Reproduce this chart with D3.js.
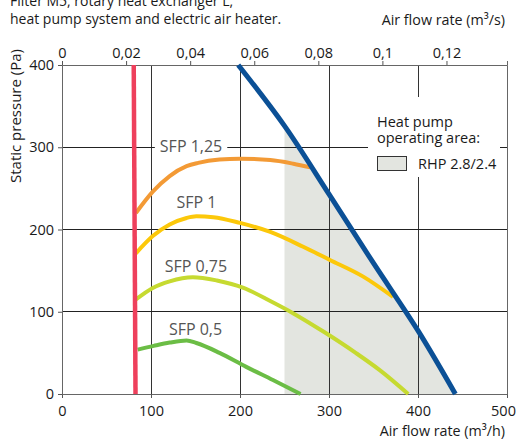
<!DOCTYPE html>
<html><head><meta charset="utf-8">
<script src="https://cdn.jsdelivr.net/npm/d3@7"></script>
<style>
html,body{margin:0;padding:0;background:#fff;}
svg{display:block;font-family:"Open Sans",sans-serif;}
</style></head><body>
<svg id="c" width="518" height="439"></svg>
<script>
// ---- data ----
const xTicksH = [0, 100, 200, 300, 400, 500];            // m3/h
const xTicksS = [0, 0.02, 0.04, 0.06, 0.08, 0.1, 0.12];   // m3/s
const xTickLabelsS = ["0", "0,02", "0,04", "0,06", "0,08", "0,1", "0,12"];
const yTicks = [0, 100, 200, 300, 400];
const gridX = [100, 200, 300, 400];
const gridY = [100, 200, 300];

const sfpNames = ["SFP 1,25", "SFP 1", "SFP 0,75", "SFP 0,5"];
const sfp125 = [[83,220],[102,246],[121,265],[140,277],[153,281],[177,285],[200,286],[234,284.5],[260,280],[279,275.5]];
const sfp100 = [[83,171],[102,192],[121,206],[140,214],[151,216],[170,215],[200,208],[234,197],[271,179],[301,163],[338,143],[372,118]];
const sfp075 = [[83,115],[102,129],[121,137],[147,142],[174,138],[204,129],[234,113],[260,98],[295,75],[330,50],[357,29],[389,0]];
const sfp050 = [[85,54],[103,58.5],[121,62.5],[140,65],[151,62],[177,50],[207,33],[237,17],[268,0]];
const sfpLabelAt = [[145,294],[151,226],[150.5,148],[150,71.5]];
const maxCurve = [[198,400],[250,326],[300,243],[350,159],[400,77],[442,0]];
const minCurve = [[82.6,0],[80.6,400]];
const hpAreaMinX = 250;
const legendTitle = ["Heat pump", "operating area:"];
const legendItem = "RHP 2.8/2.4";
const titleLines = ["Filter M5, rotary heat exchanger L,", "heat pump system and electric air heater."];

// ---- layout ----
const m = {l: 62, r: 507, t: 65, b: 394};
const colors = {sfp: ["#f39a35", "#fcc80a", "#c6da30", "#6bbd45"], max: "#0b5096", min: "#ee405c", area: "#e3e5e0"};

const svg = d3.select("#c");
const x = d3.scaleLinear().domain([0, 500]).range([m.l, m.r]);
const xs = d3.scaleLinear().domain([0, 500/3600]).range([m.l, m.r]);
const y = d3.scaleLinear().domain([0, 400]).range([m.b, m.t]);

// operating area
const line = d3.line().x(d=>x(d[0])).y(d=>y(d[1])).curve(d3.curveCatmullRom);
const maxPath = svg.append("path").attr("d", line(maxCurve)).attr("fill","none").remove();
function yOnCurveAtX(pathNode, px){
  const L = pathNode.getTotalLength();
  let lo = 0, hi = L;
  for (let k=0;k<40;k++){
    const mid=(lo+hi)/2, p=pathNode.getPointAtLength(mid);
    if (p.x < px) lo = mid; else hi = mid;
  }
  return {len: lo};
}
{
  const node = maxPath.node();
  svg.node().appendChild(node);
  const L = node.getTotalLength();
  const start = yOnCurveAtX(node, x(hpAreaMinX)).len;
  const pts = [[x(hpAreaMinX), y(0)]];
  for (let s=start; s<=L; s+=2){ const p=node.getPointAtLength(s); pts.push([p.x,p.y]); }
  const pe = node.getPointAtLength(L); pts.push([pe.x, pe.y]);
  node.remove();
  svg.append("path").attr("d", "M" + pts.map(p=>p.join(",")).join("L") + "Z").attr("fill", colors.area);
}

// grid
svg.append("g").selectAll("line").data(gridX).join("line")
  .attr("x1", d=>x(d)).attr("x2", d=>x(d)).attr("y1", m.t).attr("y2", m.b)
  .attr("stroke", "#333").attr("stroke-width", 1).attr("shape-rendering","crispEdges");
svg.append("g").selectAll("line").data(gridY).join("line")
  .attr("y1", d=>y(d)).attr("y2", d=>y(d)).attr("x1", m.l).attr("x2", m.r)
  .attr("stroke", "#222").attr("stroke-width", 1).attr("shape-rendering","crispEdges");

// axes
const axB = svg.append("g").attr("transform", `translate(0,${m.b})`)
  .call(d3.axisBottom(x).tickValues(xTicksH).tickSize(4).tickPadding(8).tickFormat(d3.format("d")));
axB.selectAll(".tick text").filter(d=>d===500).attr("dx", -4);
const axT = svg.append("g").attr("transform", `translate(0,${m.t})`)
  .call(d3.axisTop(xs).tickValues(xTicksS).tickSize(4).tickPadding(3).tickFormat((d,i)=>xTickLabelsS[i]));
const axL = svg.append("g").attr("transform", `translate(${m.l},0)`)
  .call(d3.axisLeft(y).tickValues(yTicks).tickSize(4).tickPadding(4).tickFormat(d3.format("d")));
const axR = svg.append("g").attr("transform", `translate(${m.r},0)`)
  .call(d3.axisRight(y).tickValues([]).tickSize(0));
[axB, axT, axL, axR].forEach(g=>{
  g.select(".domain").attr("stroke", "#666").attr("stroke-width", 1);
  g.selectAll(".tick line").attr("stroke", "#555");
  g.selectAll("text").attr("font-size", 14.5).attr("fill", "#1a1a1a").attr("font-family", '"Open Sans",sans-serif');
});

// legend knockout
svg.append("rect").attr("x", 368).attr("y", 97).attr("width", 132).attr("height", 80).attr("fill", "#fff");

// SFP labels
const sfpSeries = [sfp125, sfp100, sfp075, sfp050];
const lab = svg.append("g");
sfpNames.forEach((n,i)=>{
  const t = lab.append("text").attr("x", x(sfpLabelAt[i][0])).attr("y", y(sfpLabelAt[i][1]))
    .attr("text-anchor","middle").attr("font-size", 16).attr("fill", "#555").text(n);
  const bb = t.node().getBBox();
  lab.insert("rect", "text").attr("x", bb.x-5).attr("y", bb.y+2).attr("width", bb.width+10).attr("height", bb.height-5).attr("fill","#fff");
});

// curves
const sfpLine = d3.line().x(d=>x(d[0])).y(d=>y(d[1])).curve(d3.curveMonotoneX);
sfpSeries.forEach((s,i)=>{
  svg.append("path").attr("d", sfpLine(s)).attr("fill","none").attr("stroke", colors.sfp[i])
    .attr("stroke-width", 4).attr("stroke-linecap","butt");
});
svg.append("path").attr("d", d3.line().x(d=>x(d[0])).y(d=>y(d[1]))(minCurve))
  .attr("fill","none").attr("stroke", colors.min).attr("stroke-width", 4.5);
svg.append("path").attr("d", line(maxCurve)).attr("fill","none").attr("stroke", colors.max)
  .attr("stroke-width", 5);

// legend
const lg = svg.append("g").attr("font-size", 14.5).attr("fill", "#1a1a1a");
const lt = lg.append("text");
legendTitle.forEach((t,i)=>lt.append("tspan").attr("x", 377).attr("y", 127 + i*16).text(t));
lg.append("rect").attr("x", 377.5).attr("y", 156.5).attr("width", 29).attr("height", 14)
  .attr("fill", colors.area).attr("stroke", "#333").attr("stroke-width", 1);
lg.append("text").attr("x", 418).attr("y", 169).text(legendItem);

// titles
const tt = svg.append("g").attr("font-size", 14).attr("fill", "#1a1a1a");
const tl = tt.append("text");
titleLines.forEach((t,i)=>tl.append("tspan").attr("x", 10).attr("y", 6 + i*18).text(t));
tt.append("text").attr("x", 505).attr("y", 25).attr("text-anchor","end").attr("font-size", 14.3).text("Air flow rate (m³/s)");
tt.append("text").attr("x", 505).attr("y", 436).attr("text-anchor","end").attr("font-size", 14.3).text("Air flow rate (m³/h)");
tt.append("text").attr("transform", "translate(21,183) rotate(-90)").attr("font-size", 15).text("Static pressure (Pa)");
</script>
</body></html>
